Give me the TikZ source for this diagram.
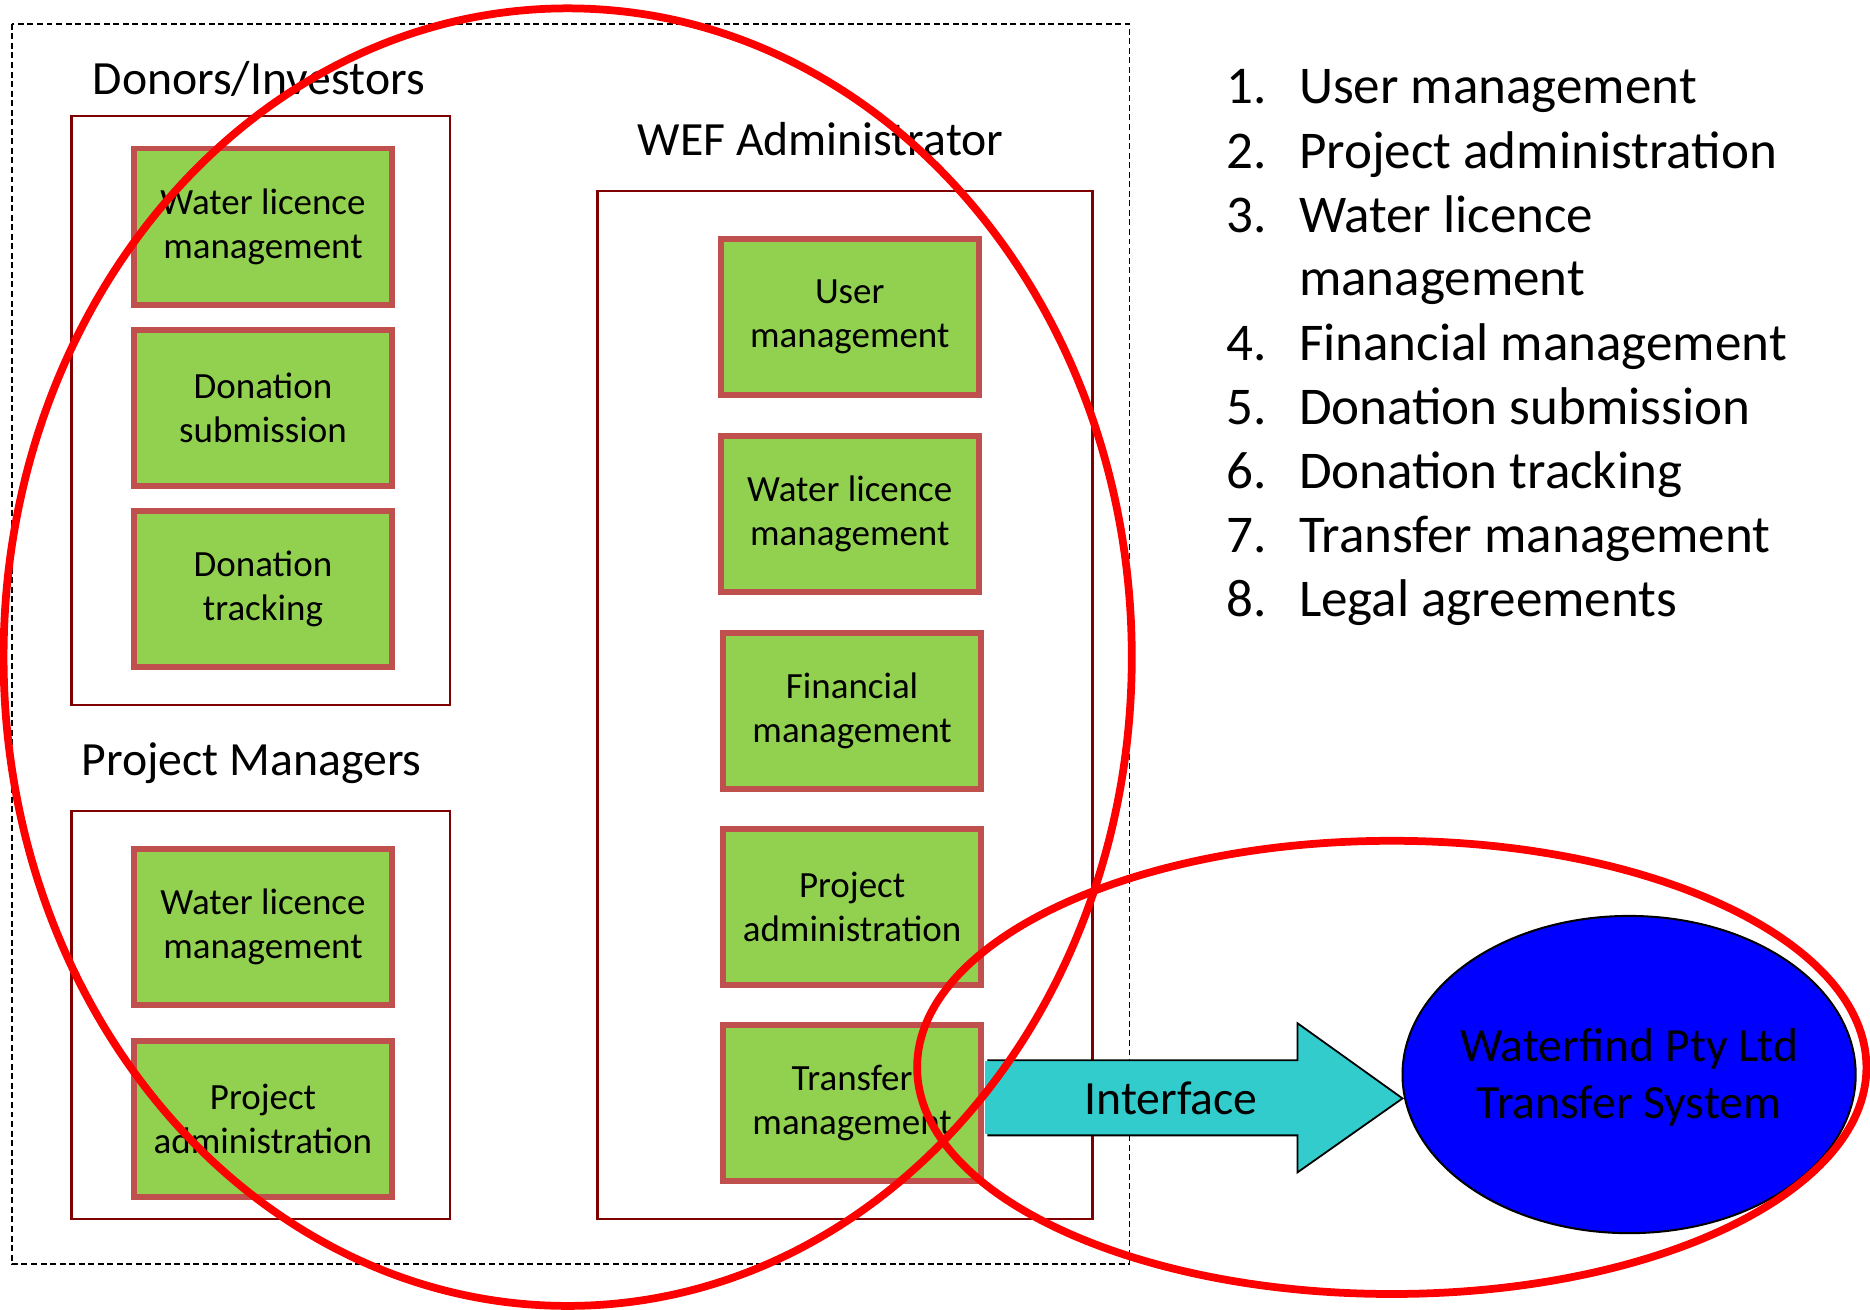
\documentclass[tikz,border=0pt]{standalone}
\usepackage{fontspec}
\setmainfont{Carlito}
\usetikzlibrary{shapes.geometric}
\definecolor{gfill}{HTML}{92D050}
\definecolor{gborder}{HTML}{C0504D}
\definecolor{dred}{HTML}{7F0000}
\definecolor{cyanfill}{HTML}{33CCCC}
\tikzset{
  gbox/.style={draw=gborder, line width=5pt, fill=gfill, minimum width=216pt, minimum height=131pt, align=center, font=\fontsize{31}{37}\selectfont, inner sep=0pt},
  grp/.style={draw=dred, line width=1.8pt},
  hdr/.style={font=\fontsize{40}{48}\selectfont, anchor=base, inner sep=0pt},
  litem/.style={font=\fontsize{44.5}{54}\selectfont, anchor=base west, inner sep=0pt},
  redring/.style={draw=red, line width=6.5pt},
}
\begin{document}
\begin{tikzpicture}[x=1pt,y=-1pt]
\useasboundingbox (0,0) rectangle (1568,1098);
% outer dashed frame
\draw[line width=1.5pt, dash pattern=on 5pt off 3pt] (10,20) rectangle (947,1060);
% headers
\node[hdr] (hdon) at (217,79) {Donors/Investors};
\node[hdr] (hpm) at (211,650) {Project Managers};
\node[hdr] (hwef) at (688,130) {WEF Administrator};
% group boxes
\draw[grp] (60,97) rectangle (377,591);
\draw[grp] (60,680) rectangle (377,1022);
\draw[grp] (501,160) rectangle (916,1022);
% donors
\node[gbox] (d1) at (220.5,190) {Water licence\\management};
\node[gbox] (d2) at (220.5,342) {Donation\\submission};
\node[gbox] (d3) at (220.5,494) {Donation\\tracking};
% project managers
\node[gbox] (p1) at (220.5,777) {Water licence\\management};
\node[gbox] (p2) at (220.5,938) {Project\\administration};
% WEF
\node[gbox] (w1) at (712.5,266) {User\\management};
\node[gbox] (w2) at (712.5,431) {Water licence\\management};
\node[gbox] (w3) at (714.5,596) {Financial\\management};
\node[gbox] (w4) at (714.5,760.5) {Project\\administration};
\node[gbox] (w5) at (714.5,925) {Transfer\\management};
% interface arrow
\draw[fill=cyanfill, line width=1.5pt, line join=miter]
  (828,889) -- (1088,889) -- (1088,858) -- (1176,921) -- (1088,983) -- (1088,952) -- (828,952);
\fill[cyanfill] (826,890) rectangle (830,951);
\node[font=\fontsize{40}{48}\selectfont, inner sep=0pt] (iface) at (982,921) {Interface};
% waterfind ellipse
\node[ellipse, draw=black, line width=1.7pt, fill=blue, minimum width=380pt, minimum height=266pt, inner sep=0pt] (wf) at (1366,901) {};
\node[align=center, font=\fontsize{40}{48}\selectfont, inner sep=0pt] (wft) at (1366,903) {Waterfind Pty Ltd\\Transfer System};
% list
\foreach \n/\t/\yy in {1./User management/87, 2./Project administration/141, 3./Water licence/195, 4./Financial management/302, 5./Donation submission/356, 6./Donation tracking/410, 7./Transfer management/463, 8./Legal agreements/517}{
  \node[litem] at (1028,\yy) {\n};
  \node[litem] at (1089,\yy) {\t};
}
\node[litem] (l3b) at (1089,248) {management};
% red rings
\draw[redring] (476,551) ellipse [x radius=473, y radius=544];
\draw[redring] (1167,895) ellipse [x radius=398, y radius=190];
\end{tikzpicture}
\end{document}
